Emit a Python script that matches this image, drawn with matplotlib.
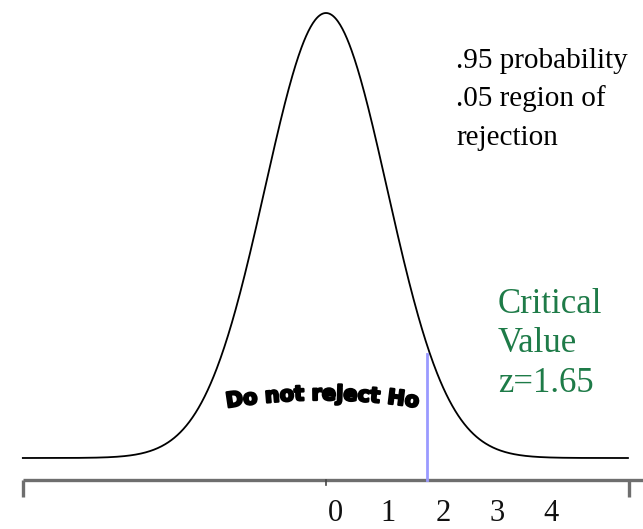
import numpy as np
import matplotlib
matplotlib.use("Agg")
import matplotlib.pyplot as plt
import matplotlib.patheffects as pe
from matplotlib.font_manager import FontProperties
from matplotlib.textpath import TextToPath

# standard normal curve, one-tailed test
mean = 0.0
sd = 1.0
z_crit = 1.65
tick_labels = ["0", "1", "2", "3", "4"]
tick_label_pos = [0.15, 1.02, 1.92, 2.80, 3.69]
curve_lo, curve_hi = -4.97, 4.95
notes = [".95 probability", ".05 region of", "rejection"]
crit_lines = ["Critical", "Value", "z=1.65"]
tail_text = "Do not reject Ho"

W, H = 643, 529
fig = plt.figure(figsize=(W / 100, H / 100), dpi=100)
ax = fig.add_axes([0, 0, 1, 1])
ax.axis("off")

# pixel layout of the picture: mean at x=326, 61 px per sd, baseline y=458, peak y=13
x0, xs = 326, 61.0
yb, yh = 458, 445.0
ax.set_xlim((0 - x0) / xs, (W - x0) / xs)
ax.set_ylim((yb - H) / yh, yb / yh)

z = np.linspace(curve_lo, curve_hi, 800)
dens = np.exp(-0.5 * ((z - mean) / sd) ** 2)
ax.plot(z, dens, color="black", lw=1.3)

# axis line and ticks
y_axis = (yb - 480) / yh
ax.plot([curve_lo, (W - x0) / xs], [y_axis, y_axis], color="#6e6e6e", lw=2.4,
        solid_capstyle="butt")
y_tick = (yb - 497) / yh
for xt in [curve_lo, (629 - x0) / xs]:
    ax.plot([xt, xt], [y_axis, y_tick], color="#6e6e6e", lw=2.4, solid_capstyle="butt")
ax.plot([mean, mean], [y_axis, (yb - 485) / yh], color="#444444", lw=1.2)

# critical value line
top = np.exp(-0.5 * z_crit ** 2) * 0.91
ax.plot([z_crit, z_crit], [y_axis, top], color="#9a9aff", lw=2)

for lab, p in zip(tick_labels, tick_label_pos):
    ax.text(p, (yb - 521) / yh, lab, ha="center", va="baseline",
            fontsize=22, family="Liberation Serif", color="#111111")

def px(x, y):
    return x / W, 1 - y / H

for i, s in enumerate(notes):
    ax.text(*px(456, 68 + 38.5 * i), s, transform=ax.transAxes, ha="left",
            va="baseline", fontsize=21, family="Liberation Serif", color="black")

for i, s in enumerate(crit_lines):
    ax.text(*px(498, 313 + 39.5 * i), s, transform=ax.transAxes, ha="left",
            va="baseline", fontsize=25, family="Liberation Serif", color="#1e7b48")

# curved label, one character at a time along an arch
prop = FontProperties(family="DejaVu Sans", weight="heavy", size=15)
ttp = TextToPath()
base = ttp.get_text_width_height_descent("HH", prop, ismath=False)[0]
adv = [(ttp.get_text_width_height_descent("H" + c + "H", prop, ismath=False)[0] - base)
       * 100 / 72 for c in tail_text]
total = sum(adv)
R, cx, cy = 600.0, 322.5, 400.0
pos = 0.0
for c, a in zip(tail_text, adv):
    s = pos + a / 2 - total / 2
    pos += a
    th = s / R
    x = cx + R * np.sin(th)
    y = cy + R * (1 - np.cos(th))
    ax.text(*px(x, y), c, transform=ax.transAxes, ha="center", va="baseline",
            rotation=-np.degrees(th), rotation_mode="anchor", fontproperties=prop,
            color="black",
            path_effects=[pe.withStroke(linewidth=1.6, foreground="black")])

fig.savefig("out.png", dpi=100)
